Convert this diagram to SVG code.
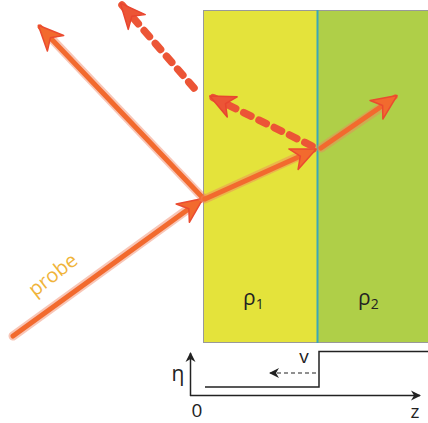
<svg xmlns="http://www.w3.org/2000/svg" width="428" height="423" viewBox="0 0 428 423">
<defs>
<marker id="ah" markerUnits="userSpaceOnUse" markerWidth="30" markerHeight="30" viewBox="-20 -12 24 24" refX="0" refY="0" orient="auto">
<path d="M2,0 L-18,-9 L-12,0 L-18,9 Z" fill="#F26A2E" stroke="#EA4B30" stroke-width="1.2" stroke-linejoin="round"/>
</marker>
<marker id="ahd" markerUnits="userSpaceOnUse" markerWidth="30" markerHeight="30" viewBox="-20 -12 24 24" refX="0" refY="0" orient="auto">
<path d="M2,0 L-18,-9 L-12,0 L-18,9 Z" fill="#EC5536" stroke="#E8452F" stroke-width="1.2" stroke-linejoin="round"/>
</marker>
<marker id="sa" markerUnits="userSpaceOnUse" markerWidth="12" markerHeight="12" viewBox="-10 -6 12 12" refX="0" refY="0" orient="auto">
<path d="M1,0 L-9,-5 L-6,0 L-9,5 Z" fill="#222"/>
</marker>
</defs>
<style>
.ray{fill:none;stroke:#F26A2E;stroke-width:5;stroke-linecap:round;marker-end:url(#ah)}
.halo{fill:none;stroke:#F08060;stroke-opacity:0.45;stroke-width:9;stroke-linecap:round}
.dray{fill:none;stroke:#EC5536;stroke-width:7.5;stroke-linecap:round;stroke-dasharray:8 9;marker-end:url(#ahd)}
.ax{fill:none;stroke:#222;stroke-width:1.5}
.lbl{font-family:"Open Sans","Liberation Sans","DejaVu Sans",sans-serif;fill:#222}
</style>
<rect width="428" height="423" fill="#fff"/>
<g id="layer1"><rect x="203.5" y="10.5" width="114" height="332" fill="#E4E33B" stroke="#999" stroke-width="1"/>
<text class="lbl" x="243" y="305" font-size="21">ρ<tspan font-size="14" dy="4">1</tspan></text></g>
<g id="layer2"><rect x="317.5" y="10.5" width="112" height="332" fill="#AFCF48" stroke="#999" stroke-width="1"/>
<line x1="317.5" y1="10" x2="317.5" y2="343" stroke="#3BA7B8" stroke-width="2"/>
<text class="lbl" x="358" y="305" font-size="21">ρ<tspan font-size="14" dy="4">2</tspan></text></g>
<g id="connectors">
<line class="halo" x1="13" y1="336" x2="195" y2="204"/>
<line class="ray" x1="13" y1="336" x2="201" y2="200"/>
<line class="halo" x1="203" y1="198" x2="48" y2="35"/>
<line class="ray" x1="203" y1="198" x2="40" y2="27"/>
<line class="halo" x1="205" y1="199" x2="306" y2="153"/>
<line class="ray" x1="205" y1="199" x2="314" y2="150"/>
<line class="halo" x1="321" y1="148" x2="386" y2="104"/>
<line class="ray" x1="321" y1="148" x2="395" y2="97"/>
<line class="dray" x1="312" y1="146" x2="212" y2="97"/>
<line class="dray" x1="194" y1="88" x2="122" y2="5"/>
</g>
<g id="probe-label"><text x="57" y="280" font-family="Open Sans, Liberation Sans, DejaVu Sans, sans-serif" font-size="20" fill="#F0B43A" text-anchor="middle" transform="rotate(-38 57 280)">probe</text></g>
<g id="profile">
<line class="ax" x1="190.5" y1="396" x2="190.5" y2="353" marker-end="url(#sa)"/>
<line class="ax" x1="190" y1="395.5" x2="420" y2="395.5" marker-end="url(#sa)"/>
<polyline class="ax" points="205,387 319,387 319,351.5 428,351.5"/>
<line x1="316" y1="373" x2="270" y2="373" stroke="#222" stroke-width="1.2" stroke-dasharray="4 3" marker-end="url(#sa)"/>
<text class="lbl" x="178" y="381" font-size="21" text-anchor="middle">η</text>
<text class="lbl" x="304" y="363" font-size="19" text-anchor="middle">v</text>
<text class="lbl" x="197" y="417" font-size="19" text-anchor="middle">0</text>
<text class="lbl" x="415" y="418" font-size="19" text-anchor="middle">z</text>
</g>
</svg>
